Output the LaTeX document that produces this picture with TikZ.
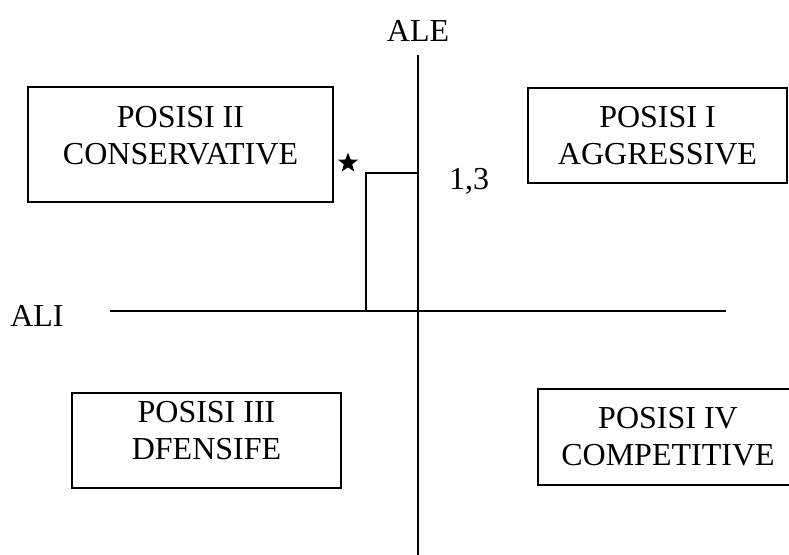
\documentclass[tikz,border=0pt]{standalone}
\usepackage{fontspec}
\setmainfont{Liberation Serif}
\usetikzlibrary{shapes.geometric}
\tikzset{
  posbox/.style={rectangle, draw, line width=1.6pt, align=center, inner sep=0pt, font=\fontsize{32}{37}\selectfont},
  axislabel/.style={font=\fontsize{32}{37}\selectfont, inner sep=0pt},
  axisline/.style={line width=1.6pt}
}
\begin{document}
\begin{tikzpicture}[x=1pt, y=-1pt]
		    \useasboundingbox (0,0) rectangle (789,554);
		    \node (posII) at (180.5, 144.5) [posbox, minimum width=305pt, minimum height=115pt, text depth=18pt] {POSISI II\\CONSERVATIVE};
		    \node (posI) at (657.5, 135.5) [posbox, minimum width=259pt, minimum height=95pt] {POSISI I\\AGGRESSIVE};
		    \node (posIII) at (206.5, 440.5) [posbox, minimum width=269pt, minimum height=95pt, text depth=20pt] {POSISI III\\DFENSIFE};
		    \node (posIV) at (668, 437) [posbox, minimum width=260pt, minimum height=96pt] {POSISI IV\\COMPETITIVE};
		    
		    \coordinate (aleTop) at (418, 55);
		    \coordinate (aleBot) at (418, 556);
		    \coordinate (aliLeft) at (110, 311);
		    \coordinate (aliRight) at (726, 311);
		    \node (ALE) at (418, 31) [axislabel] {ALE};
		    \node (ALI) at (37, 316) [axislabel] {ALI};
		    \draw[axisline] (aleTop) -- (aleBot);
		    \draw[axisline] (aliLeft) -- (aliRight);
		    
		    \coordinate (barFoot) at (366, 311);
		    \coordinate (barTop) at (418, 173);
		    \draw[axisline] (barFoot) |- (barTop);
		    \node (value) at (469, 181) [axislabel] {1,3};
		    \node (mark) at (348, 163) [star, star points=5, star point ratio=2.4, fill=black, minimum size=21pt, inner sep=0pt] {};
		    
		\end{tikzpicture}
\end{document}
